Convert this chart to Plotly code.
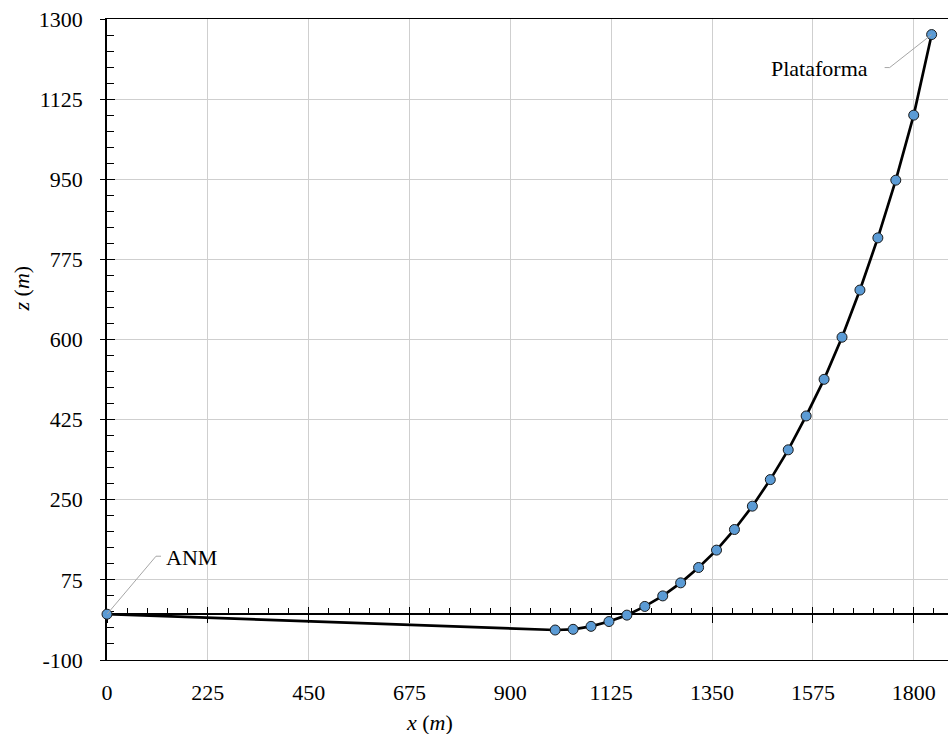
import plotly.graph_objects as go

# ---- data ----
x_m = [0, 1000, 1040, 1080, 1120, 1160, 1200, 1240, 1280, 1320, 1360, 1400,
       1440, 1480, 1520, 1560, 1600, 1640, 1680, 1720, 1760, 1800, 1840]
z_m = [0, -34.5, -33, -26.5, -16, -2, 17, 40, 68.5, 102, 140, 185,
       236, 294, 359, 433, 513, 605, 708, 822, 948, 1090, 1266]

x_ticks = [0, 225, 450, 675, 900, 1125, 1350, 1575, 1800]
z_ticks = [-100, 75, 250, 425, 600, 775, 950, 1125, 1300]
z_tick_text = ["-100", "75", "250", "425", "600", "775", "950", "1125", "1300"]

label_anm = "ANM"
label_plat = "Plataforma"

X_RANGE = [0, 1876.5]
Z_RANGE = [-100, 1300]

FONT = "Liberation Serif, Times New Roman, serif"
FS = 22

fig = go.Figure()

fig.add_trace(go.Scatter(
    x=x_m, y=z_m, mode="lines+markers",
    line=dict(color="black", width=2.7),
    marker=dict(size=10, color="#5b9bd5", line=dict(color="#1a1a1a", width=1)),
    cliponaxis=False, showlegend=False, hoverinfo="x+y"))

# empty traces to attach overlay axes (zero line ticks / outer y ticks)
fig.add_trace(go.Scatter(x=[], y=[], xaxis="x2", yaxis="y", showlegend=False, hoverinfo="skip"))
fig.add_trace(go.Scatter(x=[], y=[], xaxis="x3", yaxis="y", showlegend=False, hoverinfo="skip"))
fig.add_trace(go.Scatter(x=[], y=[], xaxis="x", yaxis="y2", showlegend=False, hoverinfo="skip"))

zero_pos = (0 - Z_RANGE[0]) / (Z_RANGE[1] - Z_RANGE[0])

fig.update_layout(
    width=948, height=734,
    margin=dict(l=107, r=0, t=19, b=74),
    paper_bgcolor="white", plot_bgcolor="white",
    font=dict(family=FONT, size=FS, color="black"),
    xaxis=dict(
        range=X_RANGE, tickmode="array", tickvals=x_ticks,
        showgrid=True, gridcolor="#cfcfcf", gridwidth=1,
        showline=True, linecolor="black", linewidth=1.3, mirror=True,
        ticks="", zeroline=False, ticklabelstandoff=12,
        layer="below traces",
    ),
    yaxis=dict(
        range=Z_RANGE, tickmode="array", tickvals=z_ticks, ticktext=z_tick_text,
        showgrid=True, gridcolor="#cfcfcf", gridwidth=1,
        showline=True, linecolor="black", linewidth=1.5,
        ticks="inside", ticklen=8, tickcolor="black", tickwidth=1,
        minor=dict(dtick=35, tick0=-100, ticks="inside", ticklen=7,
                   tickcolor="black", tickwidth=1, showgrid=False),
        zeroline=False, ticklabelstandoff=18,
        layer="below traces",
    ),
    yaxis2=dict(
        range=Z_RANGE, overlaying="y", anchor="free", position=0, side="left",
        tickmode="array", tickvals=z_ticks, showticklabels=False,
        ticks="outside", ticklen=7, tickcolor="black", tickwidth=1,
        showgrid=False, showline=False, zeroline=False, layer="below traces",
    ),
    xaxis2=dict(
        range=X_RANGE, overlaying="x", anchor="free", position=zero_pos, side="bottom",
        tickmode="array", tickvals=x_ticks, showticklabels=False,
        ticks="inside", ticklen=6, tickcolor="black", tickwidth=1,
        minor=dict(dtick=45, tick0=0, ticks="inside", ticklen=5,
                   tickcolor="black", tickwidth=1, showgrid=False),
        showgrid=False, showline=True, linecolor="black", linewidth=1.5,
        zeroline=False, layer="below traces",
    ),
    xaxis3=dict(
        range=X_RANGE, overlaying="x", anchor="free", position=zero_pos, side="bottom",
        tickmode="array", tickvals=x_ticks, showticklabels=False,
        ticks="outside", ticklen=8, tickcolor="black", tickwidth=1,
        showgrid=False, showline=False, zeroline=False, layer="below traces",
    ),
)

# leader lines (pixel-offset paths anchored at the labelled points)
fig.add_shape(type="path", xref="x", yref="y",
              xsizemode="pixel", ysizemode="pixel",
              xanchor=x_m[0], yanchor=z_m[0],
              path="M0,0 L49,58 L54,58",
              line=dict(color="#a6a6a6", width=1))
fig.add_shape(type="path", xref="x", yref="y",
              xsizemode="pixel", ysizemode="pixel",
              xanchor=x_m[-1], yanchor=z_m[-1],
              path="M0,0 L-42,-33 L-47,-33",
              line=dict(color="#a6a6a6", width=1))

fig.add_annotation(x=x_m[0], y=z_m[0], xref="x", yref="y", text=label_anm,
                   showarrow=False, xanchor="left", yanchor="middle",
                   xshift=58, yshift=57, borderpad=0, font=dict(size=FS))
fig.add_annotation(x=x_m[-1], y=z_m[-1], xref="x", yref="y", text=label_plat,
                   showarrow=False, xanchor="right", yanchor="middle",
                   xshift=-63, yshift=-34, borderpad=0, font=dict(size=FS))

# axis titles
fig.add_annotation(x=(429 - 107) / 841, y=0, xref="paper", yref="paper",
                   text="<i>x</i> (<i>m</i>)", showarrow=False,
                   xanchor="center", yanchor="middle", yshift=-62,
                   font=dict(size=FS))
fig.add_annotation(x=0, y=0.5796, xref="paper", yref="paper",
                   text="<i>z</i> (<i>m</i>)", showarrow=False, textangle=-90,
                   xanchor="center", yanchor="middle", xshift=-86,
                   font=dict(size=FS))

fig.write_html("out.html")
